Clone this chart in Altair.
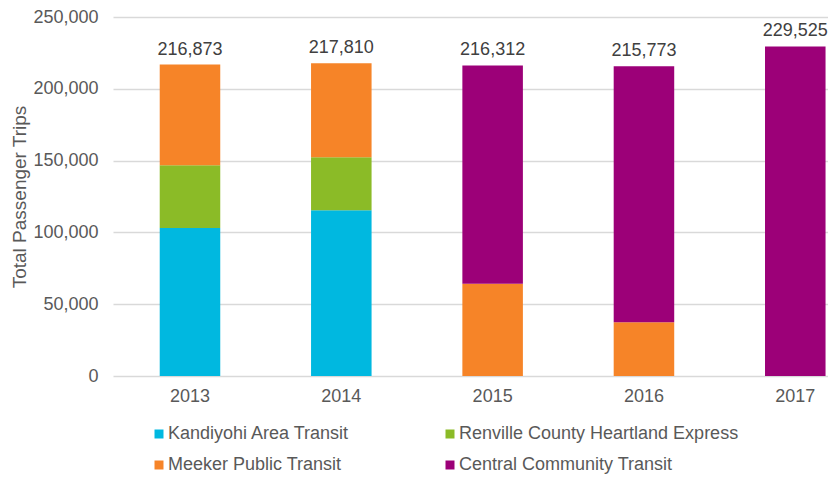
import altair as alt
import pandas as pd

years = ["2013", "2014", "2015", "2016", "2017"]
series = ["Kandiyohi Area Transit", "Renville County Heartland Express",
          "Meeker Public Transit", "Central Community Transit"]
colors = ["#00B8E0", "#8BBB27", "#F68428", "#9C0078"]
kandiyohi = [103000, 115400, 0, 0, 0]
renville = [43700, 36900, 0, 0, 0]
meeker = [70173, 65510, 64300, 37400, 0]
central = [0, 0, 152012, 178373, 229525]
totals = [216873, 217810, 216312, 215773, 229525]

rows = []
for si, (name, vals) in enumerate(zip(series, [kandiyohi, renville, meeker, central])):
    for y, v in zip(years, vals):
        if v > 0:
            rows.append({"year": y, "series": name, "value": v, "order": si})
df = pd.DataFrame(rows)
tot = pd.DataFrame({"year": years, "total": totals})

FONT = "Liberation Sans"

xscale = alt.Scale(paddingInner=0.6, paddingOuter=0.1625, align=0.95)
xaxis = alt.Axis(labelAngle=0, ticks=False, domain=False, labelPadding=11,
                 labelFontSize=18, labelColor="#595959", labelFont=FONT)
yscale = alt.Scale(domain=[0, 250000], nice=False)
yaxis = alt.Axis(values=[0, 50000, 100000, 150000, 200000, 250000], format=",.0f",
                 ticks=False, domain=False, labelPadding=15, labelFontSize=18,
                 labelColor="#595959", labelFont=FONT, titleFont=FONT,
                 titleFontSize=19, titleFontWeight="normal", titleColor="#595959",
                 titlePadding=3, gridColor="#D9D9D9", gridWidth=1.5)
YTITLE = "Total Passenger Trips"

bars = alt.Chart(df).mark_bar().encode(
    x=alt.X("year:N", title=None, scale=xscale, axis=xaxis),
    y=alt.Y("value:Q", stack="zero", title=YTITLE, scale=yscale, axis=yaxis),
    color=alt.Color("series:N", sort=series,
                    scale=alt.Scale(domain=series, range=colors),
                    legend=alt.Legend(title=None, orient="none", legendX=37, legendY=408,
                                      direction="horizontal", columns=2, columnPadding=91,
                                      rowPadding=13, symbolType="square", symbolSize=81,
                                      symbolStrokeWidth=0, labelFontSize=18, labelFont=FONT,
                                      labelColor="#595959", labelOffset=0, padding=0,
                                      labelLimit=400)),
    order=alt.Order("order:Q", sort="ascending"),
)

labels = alt.Chart(tot).mark_text(fontSize=18, font=FONT, color="#404040",
                                  baseline="alphabetic", dy=-10).encode(
    x=alt.X("year:N", title=None, scale=xscale, axis=xaxis),
    y=alt.Y("total:Q", title=YTITLE, scale=yscale, axis=yaxis),
    text=alt.Text("total:Q", format=","),
)

chart = alt.layer(bars, labels).properties(
    width=715, height=359,
    autosize=alt.AutoSizeParams(type="none"),
    padding={"left": 105, "top": 9, "right": 0, "bottom": 102},
).configure_view(stroke=None)

chart.save("out.html", embed_options={"renderer": "svg", "actions": False})
